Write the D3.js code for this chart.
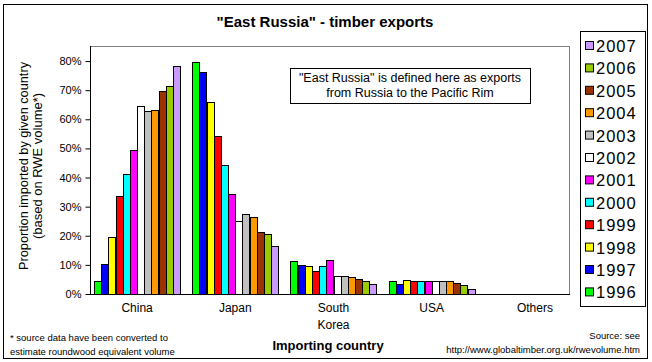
<!DOCTYPE html>
<html>
<head>
<meta charset="utf-8">
<script src="https://cdn.jsdelivr.net/npm/d3@7"></script>
<style>
  body { margin: 0; background: #fff; }
  text { font-family: "Liberation Sans", Arial, sans-serif; fill: #000; }
</style>
</head>
<body>
<div id="chart"></div>
<script>
// importing countries, one group each
var categories = ["China", "Japan", "South Korea", "USA", "Others"];
var years = ["1996", "1997", "1998", "1999", "2000", "2001", "2002", "2003", "2004", "2005", "2006", "2007"];
var yearColors = ["#00ff00", "#0000ff", "#ffff00", "#ff0000", "#00ffff", "#ff00ff",
                  "#ffffff", "#c0c0c0", "#ff9900", "#993300", "#99cc00", "#cc99ff"];

// share (%) per country
var y1996 = [4.5, 79.8, 11.3, 4.5, 0];
var y1997 = [10.4, 76.3, 10.1, 3.4, 0];
var y1998 = [19.6, 65.8, 9.7, 4.8, 0];
var y1999 = [33.5, 54.2, 8.0, 4.5, 0];
var y2000 = [41.3, 44.4, 9.7, 4.5, 0];
var y2001 = [49.6, 34.4, 11.8, 4.5, 0];
var y2002 = [64.5, 24.9, 6.3, 4.5, 0];
var y2003 = [62.8, 27.4, 6.3, 4.5, 0];
var y2004 = [63.1, 26.6, 5.8, 4.5, 0];
var y2005 = [69.6, 21.4, 5.2, 3.8, 0];
var y2006 = [71.3, 20.7, 4.5, 3.2, 0];
var y2007 = [78.2, 16.6, 3.6, 1.7, 0];
var yTicks = [0, 10, 20, 30, 40, 50, 60, 70, 80];

var series = [y1996, y1997, y1998, y1999, y2000, y2001, y2002, y2003, y2004, y2005, y2006, y2007];

var rows = [];
categories.forEach(function(c, i) {
    years.forEach(function(yr, j) {
        rows.push({country: c, year: yr, value: series[j][i], color: yearColors[j]});
    });
});

var W = 652, H = 362;
var svg = d3.select("#chart").append("svg")
    .attr("width", W)
    .attr("height", H);

// outer frame
svg.append("rect")
    .attr("x", 3.5).attr("y", 4.5)
    .attr("width", 644).attr("height", 354)
    .attr("fill", "#fff").attr("stroke", "#000");

var plotLeft = 90, plotRight = 569, plotTop = 46, plotBottom = 294;

var x0 = d3.scaleBand().domain(categories).range([88, 579]);
var x1 = d3.scaleBand().domain(years).range([6, x0.bandwidth() - 6]);
var y = d3.scaleLinear().domain([0, 85]).range([plotBottom, plotTop + 0.5]);

// plot area border (grey)
svg.append("rect")
    .attr("x", plotLeft + 0.5).attr("y", plotTop + 0.5)
    .attr("width", plotRight - plotLeft).attr("height", plotBottom - plotTop)
    .attr("fill", "none").attr("stroke", "#808080");

// bars
svg.selectAll("rect.bar")
    .data(rows.filter(function(d) { return d.value > 0; }))
    .enter().append("rect")
    .attr("class", "bar")
    .attr("x", function(d) { return Math.round(x0(d.country) + x1(d.year)) + 0.5; })
    .attr("width", Math.round(x1.bandwidth()))
    .attr("y", function(d) { return Math.round(y(d.value)) + 0.5; })
    .attr("height", function(d) { return Math.round(plotBottom - y(d.value)); })
    .attr("fill", function(d) { return d.color; })
    .attr("stroke", "#000")
    .attr("stroke-width", 1);

// Y axis
var yAxis = svg.append("g")
    .attr("transform", "translate(" + (plotLeft + 0.5) + ",0)")
    .call(d3.axisLeft(y).tickValues(yTicks).tickSize(5).tickPadding(4)
        .tickFormat(function(d) { return d + "%"; }));
yAxis.select(".domain").attr("d", "M0," + plotTop + "V" + (plotBottom + 0.5));
yAxis.selectAll("text")
    .style("font-size", "11px")
    .style("font-family", "'Liberation Sans', Arial, sans-serif");

// X axis line
svg.append("line")
    .attr("x1", plotLeft).attr("x2", plotRight + 1)
    .attr("y1", plotBottom + 0.5).attr("y2", plotBottom + 0.5)
    .attr("stroke", "#000");

// category labels
svg.selectAll("text.cat")
    .data(categories)
    .enter().append("text")
    .attr("class", "cat")
    .attr("text-anchor", "middle")
    .style("font-size", "12px")
    .each(function(d) {
        var t = d3.select(this);
        var cx = x0(d) + x0.bandwidth() / 2 + (d == "Others" ? 5 : 0);
        d.split(" ").forEach(function(part, i) {
            t.append("tspan").attr("x", cx).attr("y", 312 + i * 17).text(part);
        });
    });

// title
svg.append("text")
    .attr("x", 325).attr("y", 27)
    .attr("text-anchor", "middle")
    .style("font-size", "15px").style("font-weight", "bold")
    .text("\"East Russia\" - timber exports");

// y axis title, two lines
svg.append("text")
    .attr("transform", "translate(28,166) rotate(-90)")
    .attr("text-anchor", "middle")
    .attr("textLength", 208).attr("lengthAdjust", "spacingAndGlyphs")
    .style("font-size", "12.5px")
    .text("Proportion imported by given country");
svg.append("text")
    .attr("transform", "translate(42,166) rotate(-90)")
    .attr("text-anchor", "middle")
    .attr("textLength", 146).attr("lengthAdjust", "spacingAndGlyphs")
    .style("font-size", "12.5px")
    .text("(based on RWE volume*)");

// x axis title
svg.append("text")
    .attr("x", 328).attr("y", 350)
    .attr("text-anchor", "middle")
    .style("font-size", "13px").style("font-weight", "bold")
    .text("Importing country");

// note box
svg.append("rect")
    .attr("x", 290.5).attr("y", 68.5)
    .attr("width", 240).attr("height", 35)
    .attr("fill", "#fff").attr("stroke", "#000");
svg.append("text")
    .attr("x", 410).attr("y", 82)
    .attr("text-anchor", "middle")
    .style("font-size", "12.5px")
    .text("\"East Russia\" is defined here as exports");
svg.append("text")
    .attr("x", 410).attr("y", 97)
    .attr("text-anchor", "middle")
    .style("font-size", "12.5px")
    .text("from Russia to the Pacific Rim");

// footnotes
svg.append("text")
    .attr("x", 10).attr("y", 341)
    .style("font-size", "9.5px")
    .text("*  source data have been converted to");
svg.append("text")
    .attr("x", 10).attr("y", 355)
    .style("font-size", "9.5px")
    .text("estimate roundwood equivalent volume");
svg.append("text")
    .attr("x", 640).attr("y", 339)
    .attr("text-anchor", "end")
    .style("font-size", "9.5px")
    .text("Source: see");
svg.append("text")
    .attr("x", 640).attr("y", 353)
    .attr("text-anchor", "end")
    .style("font-size", "9.5px")
    .text("http://www.globaltimber.org.uk/rwevolume.htm");

// legend, newest year on top
var legend = svg.append("g");
legend.append("rect")
    .attr("x", 580.5).attr("y", 31.5)
    .attr("width", 65).attr("height", 275)
    .attr("fill", "#fff").attr("stroke", "#000");

var legendYears = years.slice().reverse();
var item = legend.selectAll("g.item")
    .data(legendYears)
    .enter().append("g")
    .attr("class", "item")
    .attr("transform", function(d, i) { return "translate(0," + (52 + i * 22.4) + ")"; });
item.append("rect")
    .attr("x", 585.5).attr("y", -10.5)
    .attr("width", 8).attr("height", 8)
    .attr("fill", function(d) { return yearColors[years.indexOf(d)]; })
    .attr("stroke", "#000");
item.append("text")
    .attr("x", 596).attr("y", 0)
    .style("font-size", "16.5px")
    .style("letter-spacing", "1px")
    .text(function(d) { return d; });
</script>
</body>
</html>
